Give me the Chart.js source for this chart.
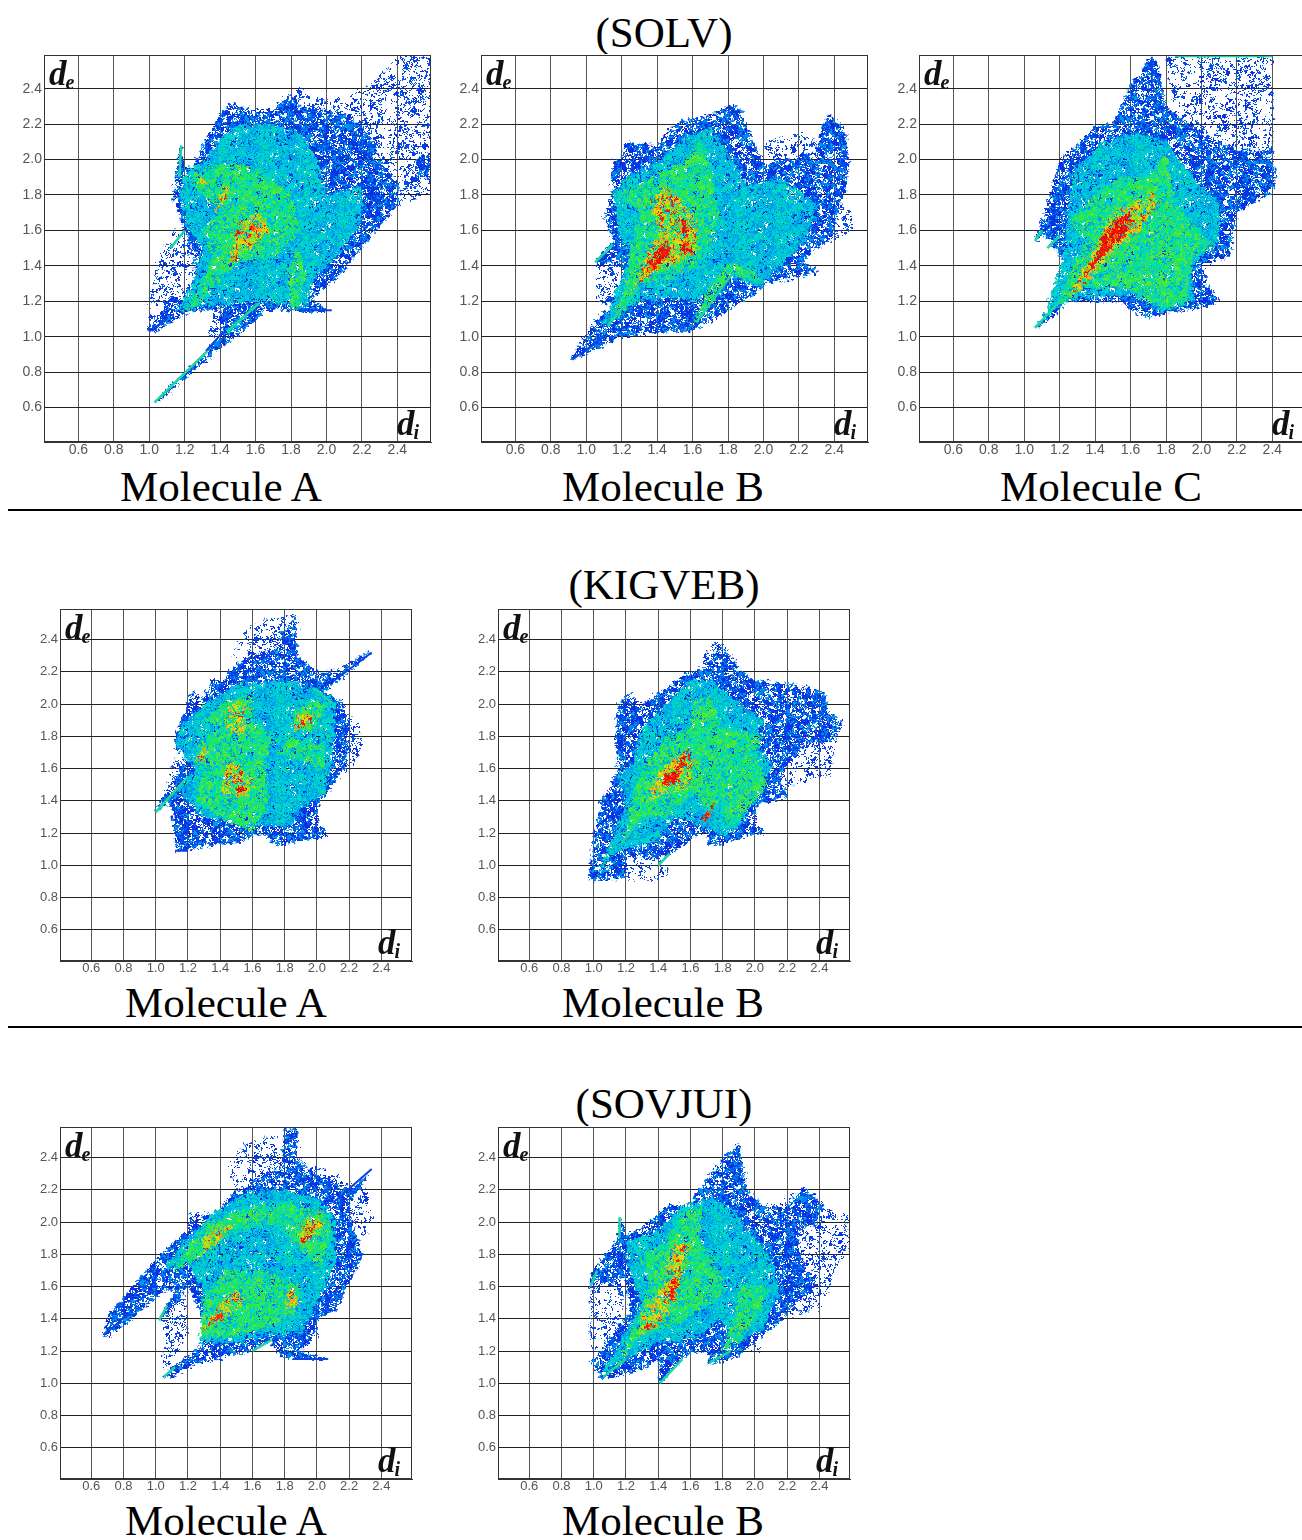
<!DOCTYPE html>
<html>
<head>
<meta charset="utf-8">
<script src="https://cdn.jsdelivr.net/npm/chart.js@4"></script>
<style>
  html, body { margin: 0; background: #fff; }
  body { position: relative; width: 1302px; height: 1540px; overflow: hidden; }
  canvas { position: absolute; background: #fff; }
  .cap { position: absolute; font: 43px "Liberation Serif", serif; color: #000; transform: translateX(-50%); white-space: nowrap; line-height: 48px; }
  .rule { position: absolute; left: 8px; width: 1294px; height: 2px; background: #000; }
  .sym { position: absolute; font: italic bold 35px "Liberation Serif", serif; color: #111; line-height: 36px; z-index: 2; }
  .sym span { font-size: 20px; margin-left: -1px; position: relative; top: 4px; }
</style>
</head>
<body>
<svg width="0" height="0" style="position:absolute">
  <filter id="rough" filterUnits="userSpaceOnUse" x="0" y="0" width="500" height="500" color-interpolation-filters="sRGB">
    <feTurbulence type="fractalNoise" baseFrequency="0.3" numOctaves="2" seed="4" result="n"/>
    <feDisplacementMap in="SourceGraphic" in2="n" scale="10" xChannelSelector="R" yChannelSelector="G"/>
  </filter>
</svg>
<script>
// tick labels on both axes
const tickLabels = ['0.6', '0.8', '1.0', '1.2', '1.4', '1.6', '1.8', '2.0', '2.2', '2.4'];

// every region is an outline in (di, de)
const solvA_sparse = [
  [[2.6,1.82],[2.6,2.6],[2.42,2.6],[2.25,2.42],[2.0,2.33],[1.82,2.41],[1.7,2.3],[2.0,2.0],[2.2,1.7],[2.38,1.72]],
  [[1.0,1.03],[1.0,1.2],[1.05,1.45],[1.14,1.6],[1.22,1.55],[1.26,1.25],[1.2,1.12],[1.04,1.03]],
  [[1.36,1.16],[1.33,1.0],[1.45,1.0],[1.6,1.15]]
];
const solvA_blue = [
  [[0.99,1.03],[1.03,1.03],[1.22,1.14],[1.4,1.16],[1.42,1.03],[1.35,0.95],[1.03,0.63],[1.05,0.63],[1.36,0.9],[1.62,1.11],[1.72,1.16],[1.84,1.14],[2.03,1.14],[1.94,1.19],[1.92,1.22],[2.05,1.32],[2.2,1.5],[2.38,1.72],[2.42,1.82],[2.3,2.02],[2.2,2.2],[2.05,2.28],[1.85,2.3],[1.8,2.37],[1.7,2.28],[1.6,2.28],[1.45,2.32],[1.4,2.25],[1.3,2.08],[1.25,1.96],[1.2,1.95],[1.18,2.08],[1.17,2.05],[1.16,1.95],[1.14,1.85],[1.13,1.78],[1.18,1.65],[1.22,1.55],[1.26,1.35],[1.2,1.22],[1.05,1.12]],
  [[2.5,1.9],[2.6,1.9],[2.6,2.05],[2.5,2.0]]
];
const solvA_mid = [
  [[1.15,1.14],[1.3,1.17],[1.6,1.2],[1.75,1.18],[1.88,1.16],[1.92,1.3],[2.05,1.45],[2.2,1.65],[2.2,1.85],[2.0,1.8],[1.95,2.0],[1.85,2.15],[1.7,2.2],[1.5,2.2],[1.38,2.1],[1.3,1.98],[1.22,1.95],[1.17,1.85],[1.2,1.65],[1.3,1.5],[1.25,1.3]],
  [[1.43,1.02],[1.46,1.02],[1.63,1.19],[1.6,1.19]]
];
const solvA_green = [
  [[1.2,1.14],[1.27,1.18],[1.5,1.42],[1.7,1.45],[1.85,1.6],[1.8,1.8],[1.6,1.95],[1.45,1.98],[1.25,1.92],[1.27,1.82],[1.42,1.72],[1.3,1.6],[1.35,1.45],[1.3,1.3]],
  [[1.78,1.36],[1.84,1.5],[1.88,1.36],[1.84,1.16],[1.8,1.16]]
];
const solvA_hot = [
  [[1.45,1.42],[1.55,1.48],[1.68,1.6],[1.62,1.7],[1.5,1.65],[1.47,1.55]],
  [[1.38,1.7],[1.46,1.82],[1.44,1.85],[1.35,1.72]],
  [[1.27,1.86],[1.33,1.85],[1.3,1.9]]
];
const solvA_red = [
  [[1.56,1.6],[1.62,1.6],[1.6,1.63],[1.56,1.62]],
  [[1.47,1.42],[1.5,1.44],[1.5,1.47],[1.47,1.46]],
  [[1.48,1.58],[1.51,1.58],[1.5,1.61]]
];
const solvA_streak = [
  [[2.597,1.98],[2.597,2.59]],
  [[1.03,0.63],[1.33,0.92]],
  [[1.44,1.03],[1.62,1.19]],
  [[1.18,2.08],[1.17,1.9]],
  [[1.12,1.5],[1.2,1.6]]
];
const solvA_wing = [
  [[1.84,1.15],[2.03,1.15]],
  [[1.32,0.92],[1.42,1.03]],
  [[1.0,1.03],[1.1,1.1]]
];

const solvB_sparse = [
  [[2.0,2.0],[2.02,2.1],[2.2,2.16],[2.3,2.1],[2.3,1.9]],
  [[2.35,1.95],[2.5,1.7],[2.5,1.62],[2.45,1.55],[2.4,1.55],[2.35,1.7]],
  [[1.06,1.2],[1.06,1.42],[1.2,1.45],[1.23,1.3],[1.15,1.18]],
  [[1.45,1.03],[1.55,1.15],[1.65,1.15],[1.6,1.03]]
];
const solvB_blue = [
  [[0.91,0.87],[0.93,0.87],[1.2,1.0],[1.38,1.02],[1.55,1.03],[1.62,1.04],[1.97,1.25],[2.02,1.3],[2.18,1.33],[2.3,1.36],[2.3,1.38],[2.22,1.42],[2.3,1.5],[2.4,1.55],[2.42,1.72],[2.47,1.85],[2.48,1.98],[2.46,2.18],[2.37,2.26],[2.33,2.18],[2.3,2.05],[2.15,2.0],[2.0,1.98],[1.95,2.1],[1.9,2.2],[1.88,2.28],[1.82,2.31],[1.7,2.25],[1.55,2.22],[1.47,2.18],[1.4,2.08],[1.22,2.1],[1.2,2.0],[1.15,2.0],[1.14,1.8],[1.1,1.68],[1.15,1.55],[1.05,1.42],[1.2,1.42],[1.2,1.2],[1.05,1.1]]
];
const solvB_mid = [
  [[1.08,1.05],[1.2,1.15],[1.3,1.2],[1.5,1.22],[1.62,1.2],[1.8,1.35],[1.98,1.28],[2.1,1.4],[2.25,1.55],[2.3,1.75],[2.1,1.9],[1.9,1.85],[1.8,2.05],[1.7,2.18],[1.55,2.12],[1.4,1.98],[1.22,1.9],[1.15,1.82],[1.18,1.6],[1.25,1.45]]
];
const solvB_green = [
  [[1.12,1.07],[1.2,1.12],[1.3,1.3],[1.42,1.32],[1.6,1.38],[1.7,1.5],[1.75,1.7],[1.7,1.95],[1.65,2.12],[1.55,1.98],[1.45,1.95],[1.3,1.85],[1.15,1.8],[1.3,1.72],[1.25,1.5],[1.22,1.25]],
  [[1.6,1.08],[1.64,1.1],[1.82,1.35],[1.98,1.3],[1.95,1.38],[1.8,1.42],[1.72,1.32]]
];
const solvB_hot = [
  [[1.25,1.25],[1.32,1.32],[1.5,1.42],[1.62,1.48],[1.63,1.65],[1.55,1.75],[1.45,1.85],[1.35,1.75],[1.42,1.6],[1.32,1.42]]
];
const solvB_red = [
  [[1.3,1.35],[1.38,1.37],[1.47,1.46],[1.45,1.55],[1.38,1.47]],
  [[1.52,1.47],[1.6,1.47],[1.58,1.54],[1.54,1.53]],
  [[1.54,1.58],[1.57,1.58],[1.57,1.66],[1.54,1.66]]
];
const solvB_streak = [
  [[1.05,1.42],[1.15,1.52]],
  [[1.62,1.08],[1.82,1.35]],
  [[1.12,1.06],[1.3,1.28]]
];
const solvB_wing = [
  [[0.92,0.87],[1.1,1.0]]
];

const solvC_sparse = [
  [[1.8,2.58],[2.4,2.58],[2.4,1.85],[2.25,1.95],[2.0,2.1],[1.85,2.25]],
  [[1.13,1.6],[1.2,1.9],[1.25,1.75]]
];
const solvC_blue = [
  [[1.06,1.05],[1.08,1.05],[1.2,1.14],[1.22,1.2],[1.55,1.2],[1.6,1.15],[1.68,1.1],[1.75,1.12],[1.85,1.14],[2.08,1.18],[2.1,1.22],[2.04,1.28],[2.0,1.4],[2.16,1.45],[2.2,1.7],[2.38,1.8],[2.42,1.85],[2.4,2.1],[2.38,2.05],[2.2,2.05],[2.0,2.15],[1.8,2.3],[1.75,2.55],[1.7,2.58],[1.66,2.5],[1.6,2.42],[1.5,2.2],[1.4,2.2],[1.3,2.08],[1.2,2.0],[1.12,1.72],[1.07,1.58],[1.06,1.54],[1.12,1.58],[1.16,1.5],[1.18,1.5],[1.25,1.35],[1.2,1.22]]
];
const solvC_mid = [
  [[1.1,1.08],[1.22,1.2],[1.6,1.24],[1.78,1.14],[1.95,1.2],[1.95,1.4],[2.1,1.55],[2.1,1.75],[1.95,1.9],[1.8,2.1],[1.65,2.15],[1.45,2.1],[1.28,1.95],[1.25,1.7],[1.22,1.45]]
];
const solvC_green = [
  [[1.2,1.17],[1.35,1.28],[1.55,1.28],[1.8,1.16],[1.92,1.2],[1.95,1.45],[2.08,1.5],[1.85,1.75],[1.8,2.05],[1.7,1.9],[1.55,1.9],[1.42,1.82],[1.25,1.65],[1.35,1.55],[1.25,1.35]]
];
const solvC_hot = [
  [[1.25,1.22],[1.35,1.3],[1.5,1.48],[1.65,1.6],[1.76,1.75],[1.72,1.82],[1.6,1.75],[1.5,1.7],[1.42,1.55],[1.33,1.4]]
];
const solvC_red = [
  [[1.33,1.35],[1.37,1.36],[1.42,1.44],[1.52,1.52],[1.62,1.66],[1.58,1.7],[1.52,1.66],[1.44,1.58],[1.42,1.48]]
];
const solvC_streak = [
  [[1.85,2.585],[2.4,2.585]],
  [[1.06,1.05],[1.22,1.22]],
  [[1.06,1.54],[1.1,1.6]],
  [[1.13,1.5],[1.2,1.57]]
];
const solvC_wing = [
  [[1.72,2.4],[1.72,2.58]]
];

const kigA_sparse = [
  [[1.48,2.3],[1.55,2.45],[1.65,2.52],[1.88,2.56],[1.87,2.3],[1.6,2.2]],
  [[2.1,2.0],[2.27,1.9],[2.28,1.75],[2.2,1.55],[2.1,1.65]],
  [[1.0,1.36],[1.12,1.65],[1.15,1.8],[1.22,1.75],[1.2,1.55],[1.1,1.42]]
];
const kigA_blue = [
  [[1.0,1.33],[1.07,1.4],[1.1,1.35],[1.12,1.14],[1.13,1.08],[1.2,1.1],[1.35,1.12],[1.52,1.14],[1.66,1.2],[1.75,1.12],[1.85,1.14],[2.06,1.18],[2.05,1.22],[2.0,1.3],[2.02,1.4],[2.1,1.5],[2.18,1.62],[2.2,1.9],[2.15,2.02],[2.05,2.08],[2.2,2.2],[2.34,2.32],[2.3,2.32],[2.12,2.2],[2.0,2.2],[1.88,2.3],[1.87,2.55],[1.78,2.45],[1.76,2.35],[1.6,2.3],[1.5,2.25],[1.42,2.15],[1.35,2.15],[1.3,2.05],[1.22,2.08],[1.18,1.95],[1.12,1.82],[1.12,1.72],[1.2,1.7],[1.1,1.5],[1.03,1.4]]
];
const kigA_mid = [
  [[1.0,1.33],[1.1,1.42],[1.25,1.6],[1.12,1.75],[1.15,1.85],[1.3,2.0],[1.5,2.12],[1.8,2.15],[2.0,2.1],[2.12,2.0],[2.1,1.65],[2.05,1.45],[1.9,1.35],[1.85,1.25],[1.6,1.25],[1.3,1.3],[1.15,1.45]]
];
const kigA_green = [
  [[1.25,1.4],[1.4,1.3],[1.6,1.2],[1.7,1.4],[1.68,1.6],[1.72,1.8],[1.6,1.9],[1.6,2.05],[1.45,2.03],[1.3,1.9],[1.4,1.85],[1.25,1.75],[1.3,1.6]],
  [[1.85,1.88],[1.95,1.82],[2.03,1.92],[2.05,2.0],[1.95,2.02],[1.85,1.95]],
  [[1.75,1.7],[2.05,1.6],[2.05,1.75],[1.85,1.8]]
];
const kigA_hot = [
  [[1.4,1.45],[1.55,1.42],[1.62,1.5],[1.55,1.58],[1.45,1.65],[1.42,1.55]],
  [[1.86,1.83],[1.97,1.88],[1.97,1.95],[1.88,1.93]],
  [[1.42,1.85],[1.55,1.8],[1.56,2.0],[1.47,2.03]],
  [[1.25,1.62],[1.35,1.72],[1.3,1.73],[1.24,1.65]]
];
const kigA_red = [
  [[1.5,1.46],[1.58,1.46],[1.56,1.49],[1.5,1.48]],
  [[1.26,1.64],[1.3,1.66],[1.28,1.68]]
];
const kigA_streak = [
  [[1.0,1.33],[1.2,1.55]],
  [[1.98,2.1],[2.1,2.0]]
];
const kigA_wing = [
  [[2.1,2.14],[2.34,2.32]],
  [[1.12,1.09],[1.2,1.09]]
];

const kigB_sparse = [
  [[2.08,1.45],[2.4,1.55],[2.47,1.55],[2.5,1.78],[2.4,1.85],[2.2,1.72]],
  [[1.2,0.91],[1.25,1.07],[1.45,1.07],[1.47,0.91]],
  [[1.62,2.25],[1.78,2.4],[1.9,2.2],[1.72,2.2]]
];
const kigB_blue = [
  [[0.97,0.93],[1.0,0.9],[1.2,0.92],[1.2,1.05],[1.45,1.05],[1.55,1.12],[1.65,1.2],[1.72,1.2],[1.7,1.12],[1.8,1.13],[1.9,1.17],[2.06,1.2],[2.0,1.28],[2.02,1.38],[2.2,1.42],[2.15,1.55],[2.3,1.75],[2.5,1.78],[2.55,1.88],[2.45,1.98],[2.43,2.08],[2.25,2.12],[2.0,2.15],[1.9,2.22],[1.8,2.38],[1.76,2.35],[1.68,2.22],[1.55,2.18],[1.45,2.1],[1.3,2.0],[1.22,2.07],[1.15,2.0],[1.13,1.8],[1.15,1.6],[1.13,1.55],[1.05,1.4],[1.0,1.2]]
];
const kigB_mid = [
  [[1.02,0.93],[1.1,1.05],[1.2,1.1],[1.4,1.15],[1.5,1.3],[1.65,1.25],[1.8,1.18],[1.92,1.25],[2.0,1.45],[2.12,1.62],[2.0,1.75],[2.05,1.9],[1.85,2.05],[1.72,2.15],[1.6,2.15],[1.45,2.0],[1.3,1.85],[1.25,1.65],[1.15,1.55],[1.2,1.4]]
];
const kigB_green = [
  [[1.18,1.13],[1.3,1.3],[1.45,1.3],[1.62,1.45],[1.72,1.32],[1.78,1.4],[1.85,1.22],[1.92,1.3],[2.08,1.5],[2.0,1.7],[2.05,1.8],[1.8,1.85],[1.72,2.05],[1.62,2.02],[1.6,1.85],[1.45,1.8],[1.3,1.6],[1.25,1.45]]
];
const kigB_hot = [
  [[1.35,1.4],[1.45,1.45],[1.6,1.48],[1.62,1.65],[1.58,1.72],[1.45,1.62],[1.35,1.5]],
  [[1.85,1.3],[1.95,1.45],[2.04,1.5],[1.92,1.42]]
];
const kigB_red = [
  [[1.42,1.5],[1.5,1.5],[1.57,1.65],[1.56,1.7],[1.5,1.58],[1.45,1.55]],
  [[1.67,1.27],[1.7,1.28],[1.75,1.38],[1.73,1.37]]
];
const kigB_streak = [
  [[1.4,1.0],[1.47,1.07]],
  [[1.18,1.15],[1.3,1.3]]
];
const kigB_wing = [];

const sovA_sparse = [
  [[1.45,2.35],[1.55,2.48],[1.75,2.55],[1.78,2.3],[1.5,2.2]],
  [[1.88,2.4],[2.2,2.25],[2.3,2.2],[2.35,2.02],[2.3,1.9],[2.2,2.05]],
  [[1.05,1.45],[1.1,1.5],[1.18,1.55],[1.2,1.3],[1.08,1.1],[1.05,1.1]]
];
const sovA_blue = [
  [[0.67,1.3],[0.7,1.28],[0.85,1.4],[1.02,1.55],[1.12,1.58],[1.07,1.48],[1.02,1.39],[1.1,1.45],[1.2,1.6],[1.25,1.5],[1.3,1.38],[1.27,1.22],[1.1,1.1],[1.05,1.04],[1.1,1.04],[1.25,1.12],[1.4,1.15],[1.58,1.2],[1.72,1.27],[1.72,1.22],[1.78,1.17],[1.85,1.15],[2.07,1.15],[1.9,1.2],[2.0,1.3],[2.0,1.4],[2.12,1.45],[2.18,1.6],[2.22,1.65],[2.28,1.8],[2.2,2.1],[2.32,2.3],[2.2,2.2],[2.12,2.25],[1.98,2.3],[1.88,2.4],[1.88,2.58],[1.8,2.58],[1.78,2.35],[1.6,2.25],[1.52,2.2],[1.45,2.15],[1.38,2.05],[1.22,2.06],[1.2,1.95],[1.05,1.82],[0.9,1.65],[0.7,1.42]]
];
const sovA_mid = [
  [[1.27,1.25],[1.5,1.25],[1.72,1.3],[1.9,1.3],[2.0,1.5],[2.12,1.75],[2.12,2.0],[2.0,2.15],[1.8,2.2],[1.55,2.18],[1.35,2.05],[1.15,1.85],[1.05,1.7],[1.2,1.75],[1.3,1.55]]
];
const sovA_green = [
  [[1.27,1.27],[1.5,1.3],[1.7,1.35],[1.85,1.42],[1.9,1.6],[1.65,1.7],[1.45,1.7],[1.3,1.55]],
  [[1.1,1.68],[1.3,1.8],[1.5,1.95],[1.75,2.0],[1.88,1.85],[2.02,1.72],[2.1,1.95],[2.05,2.05],[1.8,2.13],[1.55,2.08],[1.35,2.0],[1.22,1.88]]
];
const sovA_hot = [
  [[1.28,1.32],[1.4,1.38],[1.55,1.5],[1.5,1.58],[1.4,1.5]],
  [[1.3,1.8],[1.45,1.93],[1.5,1.98],[1.38,1.98],[1.28,1.88]],
  [[1.8,1.45],[1.88,1.48],[1.87,1.58],[1.82,1.58]],
  [[1.88,1.85],[1.97,1.9],[2.05,2.0],[1.92,2.02]]
];
const sovA_red = [
  [[1.32,1.35],[1.42,1.42],[1.4,1.44],[1.33,1.38]],
  [[1.9,1.87],[1.94,1.88],[1.92,1.92]],
  [[2.0,2.04],[2.04,2.07],[2.02,2.08]],
  [[1.94,1.95],[1.98,1.93],[1.98,1.98]]
];
const sovA_streak = [
  [[1.02,1.39],[1.07,1.48]],
  [[1.05,1.04],[1.12,1.1]],
  [[1.6,1.2],[1.72,1.27]]
];
const sovA_wing = [
  [[2.1,2.12],[2.34,2.33]],
  [[1.85,1.15],[2.07,1.15]],
  [[0.68,1.3],[0.85,1.45]]
];

const sovB_sparse = [
  [[0.98,1.2],[0.98,1.65],[1.02,1.72],[1.18,1.68],[1.18,1.45],[1.1,1.2]],
  [[2.05,1.4],[2.4,1.45],[2.5,1.7],[2.58,1.85],[2.58,2.05],[2.5,2.05],[2.3,2.2],[2.18,2.15],[2.2,1.9],[2.25,1.7]],
  [[1.85,1.2],[2.05,1.2],[2.0,1.3],[1.9,1.32]],
  [[1.82,2.35],[1.9,2.47],[1.95,2.3]]
];
const sovB_blue = [
  [[0.98,1.13],[1.05,1.03],[1.15,1.05],[1.3,1.08],[1.4,1.15],[1.41,1.0],[1.44,1.03],[1.55,1.15],[1.65,1.2],[1.72,1.18],[1.7,1.11],[1.85,1.15],[2.0,1.25],[2.15,1.38],[2.25,1.5],[2.38,1.6],[2.3,1.75],[2.25,1.95],[2.38,1.98],[2.42,2.12],[2.3,2.22],[2.2,2.1],[2.05,2.1],[1.95,2.2],[1.9,2.48],[1.82,2.42],[1.72,2.3],[1.6,2.12],[1.45,2.1],[1.35,2.0],[1.2,1.92],[1.17,2.03],[1.15,1.92],[1.12,1.85],[1.02,1.75],[0.97,1.63],[1.0,1.6],[1.2,1.65],[1.22,1.45],[1.12,1.3]]
];
const sovB_mid = [
  [[1.05,1.07],[1.2,1.15],[1.4,1.25],[1.65,1.28],[1.78,1.4],[1.9,1.25],[2.05,1.35],[2.15,1.55],[2.12,1.75],[2.0,1.9],[1.85,2.1],[1.72,2.15],[1.55,2.1],[1.4,1.95],[1.2,1.88],[1.22,1.7],[1.3,1.5]]
];
const sovB_green = [
  [[1.15,1.1],[1.28,1.3],[1.5,1.35],[1.65,1.45],[1.8,1.55],[1.8,1.65],[1.65,1.9],[1.68,2.1],[1.55,2.05],[1.45,1.88],[1.28,1.78],[1.35,1.65],[1.3,1.45],[1.22,1.3]],
  [[1.8,1.2],[1.9,1.25],[2.0,1.4],[2.1,1.6],[1.9,1.62],[1.88,1.45]]
];
const sovB_hot = [
  [[1.28,1.3],[1.38,1.35],[1.5,1.47],[1.55,1.7],[1.6,1.85],[1.5,1.88],[1.45,1.75],[1.42,1.58],[1.3,1.45]]
];
const sovB_red = [
  [[1.32,1.32],[1.36,1.34],[1.36,1.38],[1.33,1.38]],
  [[1.46,1.5],[1.5,1.55],[1.52,1.65],[1.48,1.62]],
  [[1.53,1.82],[1.58,1.84],[1.56,1.86]]
];
const sovB_streak = [
  [[1.41,1.0],[1.55,1.15]],
  [[1.16,1.9],[1.16,2.03]],
  [[1.06,1.04],[1.2,1.15]],
  [[0.98,1.6],[1.02,1.7]],
  [[1.72,1.13],[1.85,1.2]]
];
const sovB_wing = [];

// small tile of coloured dots, the plot looks grainy rather than flat
function speckle(colors, seed) {
  const c = document.createElement('canvas');
  c.width = c.height = 120;
  const g = c.getContext('2d');
  let s = seed;
  for (let y = 0; y < 120; y += 2) {
    for (let x = 0; x < 120; x += 2) {
      s = (s * 1103515245 + 12345) % 2147483648;
      const col = colors[Math.floor(s / 65536) % colors.length];
      if (col) {
        g.fillStyle = col;
        g.fillRect(x, y, 2, 2);
      }
    }
  }
  return g.createPattern(c, 'repeat');
}

const fills = {
  sparse: speckle([null, null, null, null, null, null, '#0a34e0', '#0050e8'], 11),
  blue: speckle([null, null, '#0a2ee0', '#0a34e0', '#0048e8', '#0060e8', '#0a2ee0', '#0088e8', '#00a0e8'], 23),
  mid: speckle([null, '#0090e8', '#00b8e0', '#00d0d8', '#00d8c0', '#00c8e0', '#00e0a0', '#00a8e8'], 37),
  green: speckle([null, null, '#30e850', '#00d8c0', '#60e830', '#20e060', '#00e0a0', '#30e850'], 41),
  hot: speckle([null, null, null, null, '#a0e020', '#e8d810', '#f0a010', '#e82010', '#c8e010', '#f0c010'], 53),
  red: speckle([null, '#f01010', '#e81008', '#ff3000', '#f01010', '#ff8000', '#d80808'], 67)
};

function region(points, fill) {
  return {
    data: points.map(([x, y]) => ({ x, y })),
    showLine: true,
    fill: 'shape',
    backgroundColor: fill,
    borderWidth: 0,
    borderColor: 'transparent',
    pointRadius: 0
  };
}

function thinLine(points, color, width) {
  return {
    data: points.map(([x, y]) => ({ x, y })),
    showLine: true,
    fill: false,
    sharp: true,
    borderColor: color,
    borderWidth: width,
    pointRadius: 0
  };
}

// roughen the outlines of the filled regions only, axes and thin spikes stay sharp
const roughEdges = {
  id: 'roughEdges',
  beforeDatasetsDraw(chart) { chart.ctx.save(); chart.ctx.filter = 'url(#rough)'; },
  beforeDatasetDraw(chart, args) {
    if (chart.data.datasets[args.index].sharp) chart.ctx.filter = 'none';
  },
  afterDatasetsDraw(chart) { chart.ctx.restore(); },
  afterDraw(chart) {
    // frame, the bound ticks are switched off so top and right have no grid line
    const { left, top, width, height } = chart.chartArea;
    const ctx = chart.ctx;
    ctx.save();
    ctx.strokeStyle = '#333';
    ctx.lineWidth = 1;
    ctx.strokeRect(Math.round(left) + 0.5, Math.round(top) + 0.5, Math.round(width) - 1, Math.round(height) - 1);
    ctx.restore();
  }
};

function drawPanel(left, top, size, fontSize, layers) {
  const cv = document.createElement('canvas');
  const padL = 40, padT = 1, padB = 24, padR = 4;
  cv.width = size + padL + padR;
  cv.height = size + padT + padB;
  cv.style.left = (left - padL) + 'px';
  cv.style.top = (top - padT) + 'px';
  document.body.appendChild(cv);

  let datasets = [];
  ['sparse', 'blue', 'mid', 'green', 'hot', 'red'].forEach((name, i) => {
    layers[i].forEach(p => datasets.push(region(p, fills[name])));
  });
  layers[6].forEach(p => datasets.push(thinLine(p, '#18d8a0', 2.5)));
  layers[7].forEach(p => datasets.push(thinLine(p, '#0a44e0', 2)));
  datasets.reverse(); // first dataset ends up on top

  const tickOpts = {
    stepSize: 0.2,
    includeBounds: false,
    color: '#555',
    font: { family: '"Liberation Sans"', size: fontSize },
    maxRotation: 0,
    autoSkip: false,
    callback: v => tickLabels.includes(v.toFixed(1)) ? v.toFixed(1) : ''
  };

  new Chart(cv, {
    type: 'scatter',
    data: { datasets },
    plugins: [roughEdges],
    options: {
      responsive: false,
      animation: false,
      layout: { padding: { top: padT, right: padR } },
      plugins: { legend: { display: false }, tooltip: { enabled: false }, filler: { propagate: false } },
      scales: {
        x: {
          min: 0.406, max: 2.59,
          afterFit: s => { s.height = padB; s.paddingLeft = 0; s.paddingRight = 0; },
          grid: { color: '#555', lineWidth: 1, drawTicks: false },
          border: { color: '#333' },
          ticks: { ...tickOpts, padding: 0 }
        },
        y: {
          min: 0.406, max: 2.59,
          afterFit: s => { s.width = padL; s.paddingTop = 0; s.paddingBottom = 0; },
          grid: { color: '#222', lineWidth: 1, drawTicks: false },
          border: { color: '#333' },
          ticks: { ...tickOpts, padding: 2 }
        }
      }
    }
  });

  const de = document.createElement('div');
  de.className = 'sym';
  de.innerHTML = 'd<span>e</span>';
  de.style.left = (left + 5) + 'px';
  de.style.top = (top + 1) + 'px';
  document.body.appendChild(de);

  const di = document.createElement('div');
  di.className = 'sym';
  di.innerHTML = 'd<span>i</span>';
  di.style.left = (left + size - 34) + 'px';
  di.style.top = (top + size - 36) + 'px';
  document.body.appendChild(di);
}

function caption(text, cx, top) {
  const d = document.createElement('div');
  d.className = 'cap';
  d.textContent = text;
  d.style.left = cx + 'px';
  d.style.top = top + 'px';
  document.body.appendChild(d);
}

function rule(top) {
  const d = document.createElement('div');
  d.className = 'rule';
  d.style.top = top + 'px';
  document.body.appendChild(d);
}

caption('(SOLV)', 664, 9);
caption('Molecule A', 221, 463);
caption('Molecule B', 663, 463);
caption('Molecule C', 1101, 463);
rule(509);
caption('(KIGVEB)', 664, 561);
caption('Molecule A', 226, 979);
caption('Molecule B', 663, 979);
rule(1026);
caption('(SOVJUI)', 664, 1080);
caption('Molecule A', 226, 1497);
caption('Molecule B', 663, 1497);

drawPanel(44, 55, 387, 14, [solvA_sparse, solvA_blue, solvA_mid, solvA_green, solvA_hot, solvA_red, solvA_streak, solvA_wing]);
drawPanel(481, 55, 387, 14, [solvB_sparse, solvB_blue, solvB_mid, solvB_green, solvB_hot, solvB_red, solvB_streak, solvB_wing]);
drawPanel(919, 55, 387, 14, [solvC_sparse, solvC_blue, solvC_mid, solvC_green, solvC_hot, solvC_red, solvC_streak, solvC_wing]);
drawPanel(60, 609, 352, 13, [kigA_sparse, kigA_blue, kigA_mid, kigA_green, kigA_hot, kigA_red, kigA_streak, kigA_wing]);
drawPanel(498, 609, 352, 13, [kigB_sparse, kigB_blue, kigB_mid, kigB_green, kigB_hot, kigB_red, kigB_streak, kigB_wing]);
drawPanel(60, 1127, 352, 13, [sovA_sparse, sovA_blue, sovA_mid, sovA_green, sovA_hot, sovA_red, sovA_streak, sovA_wing]);
drawPanel(498, 1127, 352, 13, [sovB_sparse, sovB_blue, sovB_mid, sovB_green, sovB_hot, sovB_red, sovB_streak, sovB_wing]);
</script>
</body>
</html>
